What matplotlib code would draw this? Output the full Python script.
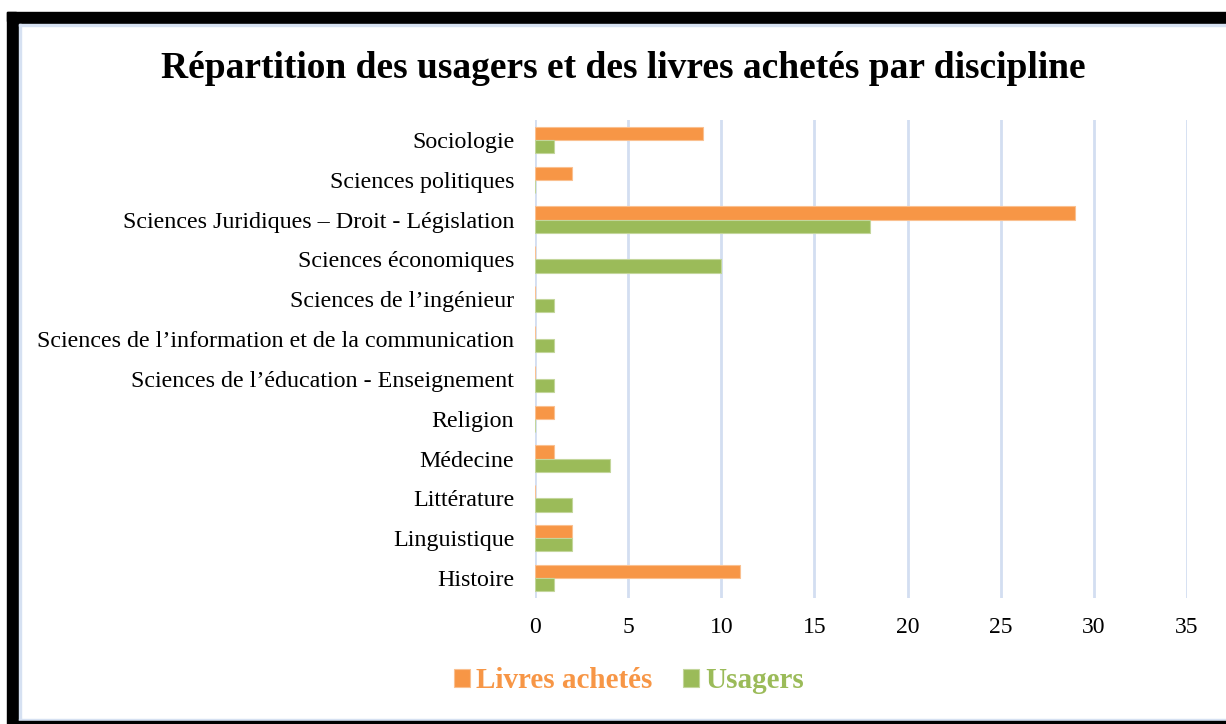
import matplotlib.pyplot as plt
import matplotlib.patches as mpatches
import numpy as np

plt.rcParams['font.family'] = ['Liberation Serif', 'DejaVu Serif']

categories = [
    "Sociologie",
    "Sciences politiques",
    "Sciences Juridiques – Droit - Législation",
    "Sciences économiques",
    "Sciences de l’ingénieur",
    "Sciences de l’information et de la communication",
    "Sciences de l’éducation - Enseignement",
    "Religion",
    "Médecine",
    "Littérature",
    "Linguistique",
    "Histoire",
]
livres = [9, 2, 29, 0, 0, 0, 0, 1, 1, 0, 2, 11]
usagers = [1, 0, 18, 10, 1, 1, 1, 0, 4, 2, 2, 1]
xticks = [0, 5, 10, 15, 20, 25, 30, 35]

orange = '#F79646'
green = '#9BBB59'
W, H = 1226, 724

fig = plt.figure(figsize=(W / 100, H / 100), dpi=100)
ax = fig.add_axes([535 / W, 1 - 598 / H, (1187 - 535) / W, (598 - 120) / H])

y = np.arange(len(categories))
h = 0.33
ax.barh(y - h / 2, livres, height=h, color=orange, edgecolor='#FAC090', linewidth=0.8,
        label='Livres achetés', zorder=3)
ax.barh(y + h / 2, usagers, height=h, color=green, edgecolor='#C3D69B', linewidth=0.8,
        label='Usagers', zorder=3)

ax.set_ylim(len(categories) - 0.5, -0.5)
ax.set_xlim(0, 35)
ax.set_yticks(y)
ax.set_yticklabels(categories, fontsize=17.3)
ax.set_xticks(xticks)
ax.set_xticklabels([str(t) for t in xticks], fontsize=17)
ax.tick_params(axis='x', length=0, pad=14)
ax.tick_params(axis='y', length=0, pad=15)
for s in ax.spines.values():
    s.set_visible(False)
ax.grid(axis='x', color='#D3DEF1', linewidth=2, zorder=0)

fig.text(623 / W, 1 - 68 / H, 'Répartition des usagers et des livres achetés par discipline',
         ha='center', va='center', fontsize=27, fontweight='bold')

leg = fig.legend(loc='center', bbox_to_anchor=(629 / W, 1 - 681 / H), ncol=2,
                 frameon=False, handlelength=0.55, handleheight=0.55, handletextpad=0.2,
                 columnspacing=1.05, prop={'size': 21, 'weight': 'bold'})
for txt, c in zip(leg.get_texts(), [orange, green]):
    txt.set_color(c)

# page border
def px_rect(x0, y0, x1, y1, color):
    fig.patches.append(mpatches.Rectangle((x0 / W, 1 - y1 / H), (x1 - x0) / W, (y1 - y0) / H,
                                          transform=fig.transFigure, color=color, zorder=10))

px_rect(7, 12, 16, H, 'black')
px_rect(7, 12, W, 21, 'black')
px_rect(17, 22, 18.5, 723, 'black')
px_rect(17, 22, W, 23.5, 'black')
px_rect(19, 24, 21, 720, '#D6E1F2')
px_rect(19, 24, W, 26, '#D6E1F2')
px_rect(19, 718.5, W, 720.5, '#D6E1F2')
px_rect(17, 721, W, 723, 'black')

fig.savefig('out.png', dpi=100)
